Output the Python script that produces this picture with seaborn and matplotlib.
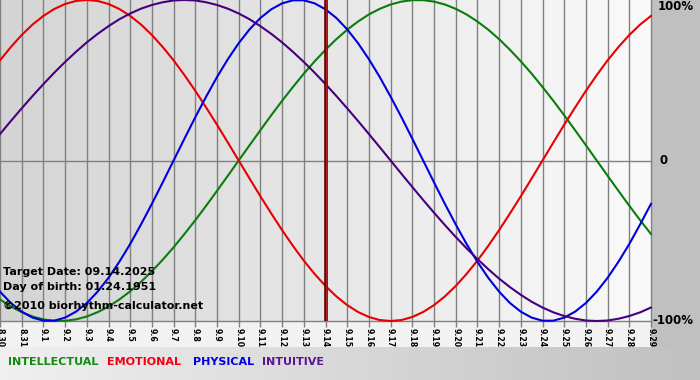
import numpy as np
import pandas as pd
import matplotlib
matplotlib.use("Agg")
import matplotlib.pyplot as plt
import seaborn as sns
from matplotlib.colors import LinearSegmentedColormap

# ---------------- data (every half day 8.30 .. 9.29) ----------------
day_labels = ["8.30", "8.31", "9.1", "9.2", "9.3", "9.4", "9.5", "9.6", "9.7", "9.8",
              "9.9", "9.10", "9.11", "9.12", "9.13", "9.14", "9.15", "9.16", "9.17",
              "9.18", "9.19", "9.20", "9.21", "9.22", "9.23", "9.24", "9.25", "9.26",
              "9.27", "9.28", "9.29"]

physical = [-0.817, -0.888, -0.942, -0.979, -0.998, -0.998, -0.979, -0.942, -0.888,
            -0.817, -0.731, -0.631, -0.520, -0.398, -0.270, -0.136, 0.000, 0.136,
            0.270, 0.398, 0.520, 0.631, 0.731, 0.817, 0.888, 0.942, 0.979, 0.998,
            0.998, 0.979, 0.942, 0.888, 0.817, 0.731, 0.631, 0.520, 0.398, 0.270,
            0.136, 0.000, -0.136, -0.270, -0.398, -0.520, -0.631, -0.731, -0.817,
            -0.888, -0.942, -0.979, -0.998, -0.998, -0.979, -0.942, -0.888, -0.817,
            -0.731, -0.631, -0.520, -0.398, -0.270]

emotional = [0.624, 0.707, 0.782, 0.847, 0.901, 0.944, 0.975, 0.994, 1.000, 0.994,
             0.975, 0.944, 0.901, 0.847, 0.782, 0.707, 0.624, 0.532, 0.434, 0.330,
             0.223, 0.112, 0.000, -0.112, -0.223, -0.330, -0.434, -0.532, -0.624,
             -0.707, -0.782, -0.847, -0.901, -0.944, -0.975, -0.994, -1.000, -0.994,
             -0.975, -0.944, -0.901, -0.847, -0.782, -0.707, -0.624, -0.532, -0.434,
             -0.330, -0.223, -0.112, 0.000, 0.112, 0.223, 0.330, 0.434, 0.532, 0.624,
             0.707, 0.782, 0.847, 0.901]

intellectual = [-0.866, -0.910, -0.945, -0.972, -0.990, -0.999, -0.999, -0.990,
                -0.972, -0.945, -0.910, -0.866, -0.815, -0.756, -0.690, -0.618,
                -0.541, -0.458, -0.372, -0.282, -0.189, -0.095, 0.000, 0.095, 0.189,
                0.282, 0.372, 0.458, 0.541, 0.618, 0.690, 0.756, 0.815, 0.866, 0.910,
                0.945, 0.972, 0.990, 0.999, 0.999, 0.990, 0.972, 0.945, 0.910, 0.866,
                0.815, 0.756, 0.690, 0.618, 0.541, 0.458, 0.372, 0.282, 0.189, 0.095,
                0.000, -0.095, -0.189, -0.282, -0.372, -0.458]

intuitive = [0.165, 0.246, 0.325, 0.402, 0.476, 0.547, 0.614, 0.677, 0.736, 0.789,
             0.837, 0.880, 0.916, 0.946, 0.969, 0.986, 0.997, 1.000, 0.997, 0.986,
             0.969, 0.946, 0.916, 0.880, 0.837, 0.789, 0.736, 0.677, 0.614, 0.547,
             0.476, 0.402, 0.325, 0.246, 0.165, 0.083, 0.000, -0.083, -0.165, -0.246,
             -0.325, -0.402, -0.476, -0.547, -0.614, -0.677, -0.736, -0.789, -0.837,
             -0.880, -0.916, -0.946, -0.969, -0.986, -0.997, -1.000, -0.997, -0.986,
             -0.969, -0.946, -0.916]

series_names = ["INTELLECTUAL", "EMOTIONAL", "PHYSICAL", "INTUITIVE"]
target_day = "9.14"
target_text = "Target Date: 09.14.2025"
birth_text = "Day of birth: 01.24.1951"
copyright_text = "\u00a92010 biorhythm-calculator.net"
right_labels = ["100%", "0", "-100%"]
right_values = [1.0, 0.0, -1.0]

# ---------------- styling ----------------
line_colors = {"INTELLECTUAL": "#0a7d0a", "EMOTIONAL": "#e80000",
               "PHYSICAL": "#0000dd", "INTUITIVE": "#46007e"}
legend_colors = {"INTELLECTUAL": "#108a10", "EMOTIONAL": "#f00010",
                 "PHYSICAL": "#0000e6", "INTUITIVE": "#5a1496"}

plt.rcParams["font.family"] = ["DejaVu Sans"]

W, H = 700, 380
fig = plt.figure(figsize=(W / 100, H / 100), dpi=100)

# background image (figure level)
bg = np.full((H, W, 3), 0xc0 / 255.0)
plot_w, plot_h = 651, 321
strip_bottom = 347
bg[plot_h:strip_bottom, :plot_w, :] = 0xf2 / 255.0
grad = np.linspace(0xf0, 0xc0, W) / 255.0
bg[strip_bottom:, :, :] = grad[None, :, None]
bga = fig.add_axes([0, 0, 1, 1], zorder=-10)
bga.imshow(bg, aspect="auto", extent=[0, W, H, 0], interpolation="nearest")
bga.set_axis_off()

ax = fig.add_axes([0, (H - plot_h) / H, plot_w / W, plot_h / H])
n = len(day_labels)
day_idx = np.arange(n)
m = len(physical)
x_pos = np.arange(m) * (n - 1) / (m - 1)   # half-day steps on the day axis

# plot area gradient
cmap = LinearSegmentedColormap.from_list("bggrad", ["#d4d4d4", "#fafafa"])
ax.imshow(np.linspace(0, 1, 256)[None, :], cmap=cmap, aspect="auto",
          extent=[0, n - 1, -1.0, 1.0], zorder=0, interpolation="bilinear")

df = pd.DataFrame({
    "pos": np.concatenate([x_pos] * 4),
    "value": intellectual + emotional + physical + intuitive,
    "series": np.repeat(series_names, m),
})

for d in day_idx:
    ax.axvline(d, color="#808080", lw=1.0, zorder=1)
ax.axhline(0, color="#808080", lw=1.0, zorder=1)

sns.lineplot(data=df, x="pos", y="value", hue="series", hue_order=series_names,
             palette=line_colors, linewidth=1.5, legend=False, ax=ax, zorder=3)
for ln in ax.get_lines():
    ln.set_clip_on(False)

ti = day_labels.index(target_day)
ax.axvline(ti, color="#5a0000", lw=2.6, zorder=4)
ax.axvline(ti, color="#b02020", lw=1.0, zorder=4)

ax.set_xlim(0, n - 1)
ax.set_ylim(-1.0, 1.0)
ax.set_xticks(day_idx)
ax.set_xticklabels(day_labels, rotation=270, fontsize=5.6, fontweight="bold")
ax.set_yticks([])
ax.tick_params(axis="x", length=4, width=1, color="#808080", pad=1)
ax.set_xlabel("")
ax.set_ylabel("")
for s in ["top", "left", "right"]:
    ax.spines[s].set_visible(False)
ax.spines["bottom"].set_color("#808080")
ax.spines["bottom"].set_linewidth(1)
ax.patch.set_alpha(0)

# info text
ax.text(0.004, 1 - 272 / plot_h, target_text, transform=ax.transAxes,
        fontsize=8, fontweight="bold", va="center", ha="left", zorder=6)
ax.text(0.004, 1 - 287 / plot_h, birth_text, transform=ax.transAxes,
        fontsize=8, fontweight="bold", va="center", ha="left", zorder=6)
ax.text(0.004, 1 - 306 / plot_h, copyright_text, transform=ax.transAxes,
        fontsize=8, fontweight="bold", va="center", ha="left", zorder=6)

# right axis labels
right_x = [658, 659, 652]
for lab, val, xp in zip(right_labels, right_values, right_x):
    ypix = (1 - val) / 2 * plot_h
    ypix = min(max(ypix, 7), 321)
    fig.text(xp / W, 1 - ypix / H, lab, fontsize=8.5, fontweight="bold",
             va="center", ha="left")

# legend texts
legend_x = [8, 107, 193, 262]
for name, xp in zip(series_names, legend_x):
    fig.text(xp / W, 1 - 362 / H, name, color=legend_colors[name], fontsize=8,
             fontweight="bold", va="center", ha="left")

fig.savefig("out.png", dpi=100)
